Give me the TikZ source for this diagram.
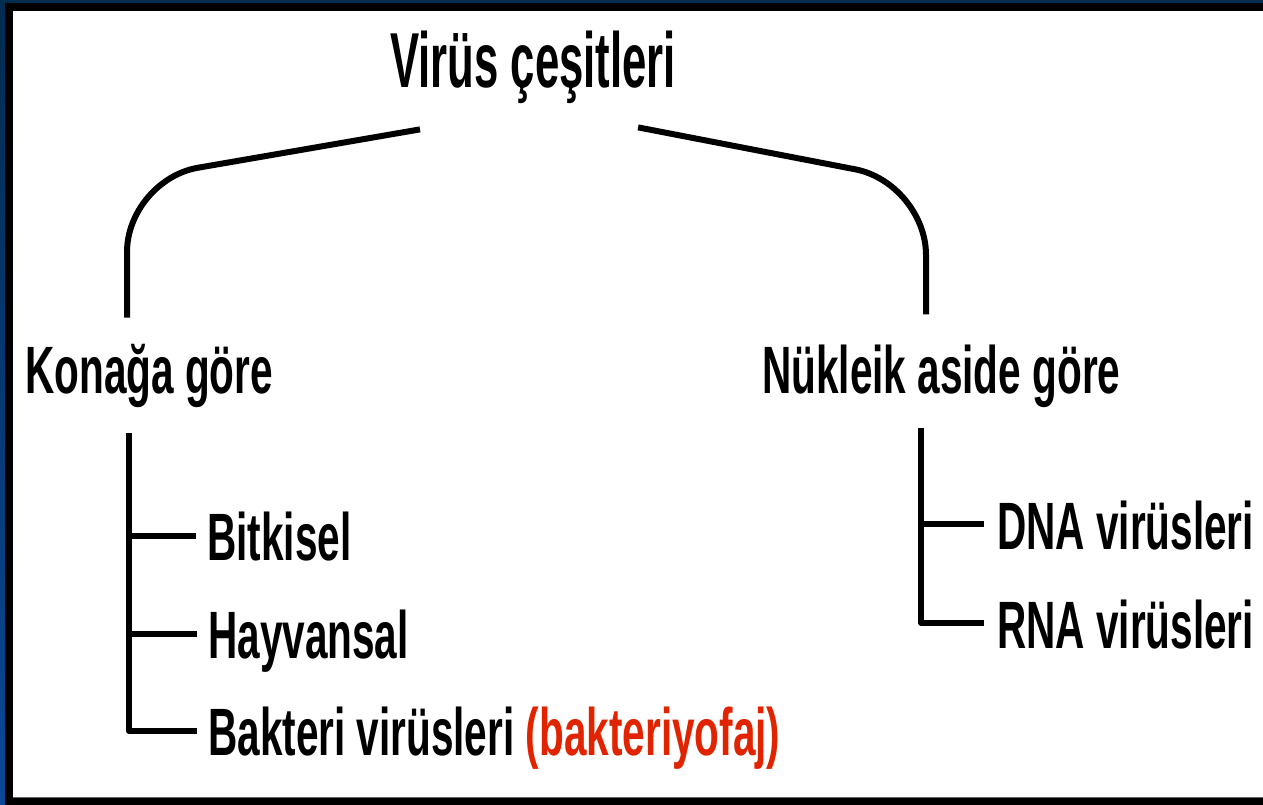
\documentclass[tikz,border=0pt]{standalone}
\usepackage{fontspec}
\newfontfamily\narrowfont{Liberation Sans Bold}[FakeStretch=0.605]
\newfontfamily\titlefont{Liberation Sans Bold}[FakeStretch=0.56]
\definecolor{stripblue}{RGB}{0,44,80}
\definecolor{stripbluelow}{RGB}{10,72,150}
\definecolor{fajred}{RGB}{224,36,0}
\begin{document}
\begin{tikzpicture}[x=1pt,y=-1pt, line join = round, font=\narrowfont]
    \tikzset{lbl/.style={anchor=base west, inner sep=0pt, font=\narrowfont\fontsize{67}{70}\selectfont},
             branch/.style={line width=6pt},
             arc line/.style={line width=6pt, rounded corners=72pt}}
    \useasboundingbox (0,0) rectangle (1263,805);
    % frame
    \shade[top color=stripblue, bottom color=stripbluelow] (0,0) rectangle (5,805);
    \fill[stripblue] (0,0) rectangle (1263,3.3);
    \fill[black] (5,3.3) rectangle (13,805);
    \fill[black] (5,3.3) rectangle (1263,11);
    \fill[black!60] (13,796.5) rectangle (1263,798);
    \fill[black] (5,798) rectangle (1263,805);
    % texts
    \node[lbl, font=\titlefont\fontsize{78}{80}\selectfont] (title) at (390,88) {Virüs çeşitleri};
    \node[lbl] (konak) at (25,393) {Konağa göre};
    \node[lbl] (nukleik) at (762,393) {Nükleik aside göre};
    \node[lbl] (bitkisel) at (207,560) {Bitkisel};
    \node[lbl] (hayvansal) at (208,658) {Hayvansal};
    \node[lbl] (bakteri) at (208,755) {Bakteri virüsleri \textcolor{fajred}{(bakteriyofaj)}};
    \node[lbl] (dna) at (997,549) {DNA virüsleri};
    \node[lbl] (rna) at (997,648) {RNA virüsleri};
    % arcs from the title
    \coordinate (lcorner) at (127,180);
    \coordinate (rcorner) at (926,183);
    \coordinate (lk) at ([yshift=26pt]konak.north);
    \coordinate (rk) at ([yshift=30pt]nukleik.north);
    \draw[arc line] ([xshift=30pt,yshift=-25pt]title.south west) -- (lcorner) -- (lcorner |- lk);
    \draw[arc line] ([xshift=-38pt,yshift=-23pt]title.south east) -- (rcorner) -- (rcorner |- rk);
    % left bracket
    \coordinate (kl) at ([xshift=-20pt,yshift=-26pt]konak.south);
    \foreach \n in {bitkisel,hayvansal,bakteri}
        \coordinate (\n-t) at ([xshift=-11pt,yshift=24pt]\n.base west);
    \draw[branch] (kl) |- (bakteri-t);
    \draw[branch] (kl |- bitkisel-t) -- (bitkisel-t);
    \draw[branch] (kl |- hayvansal-t) -- (hayvansal-t);
    % right bracket
    \coordinate (nl) at ([xshift=-20pt,yshift=-21pt]nukleik.south);
    \foreach \n in {dna,rna}
        \coordinate (\n-t) at ([xshift=-13pt,yshift=25pt]\n.base west);
    \draw[branch] (nl) |- (rna-t);
    \draw[branch] (nl |- dna-t) -- (dna-t);
\end{tikzpicture}
\end{document}
